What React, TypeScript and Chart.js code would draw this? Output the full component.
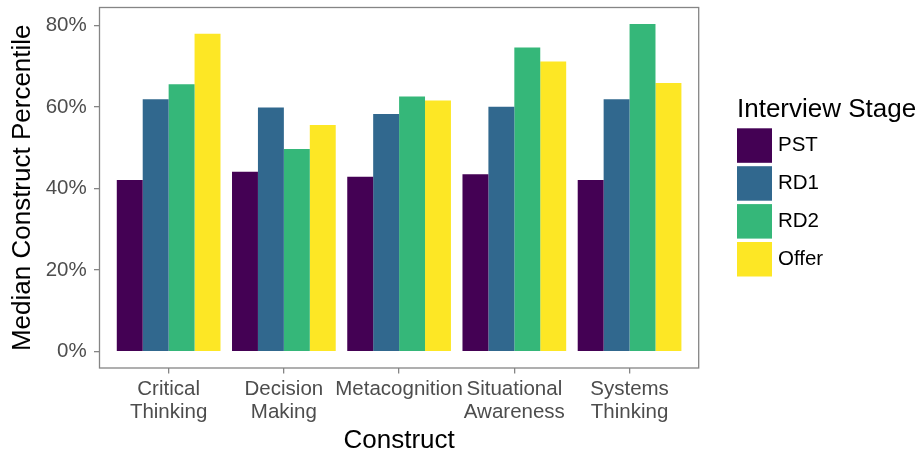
import React, { useEffect, useRef } from "react";
import { Chart, registerables, CategoryScale } from "chart.js";

Chart.register(...registerables);

class PaddedCategoryScale extends CategoryScale {
  static id = "paddedCategory";
  static defaults = CategoryScale.defaults;
  configure() {
    super.configure();
    const pad = 0.6;
    (this as any)._startValue = this.min - pad;
    (this as any)._valueRange = this.max - this.min + 2 * pad;
  }
}
Chart.register(PaddedCategoryScale as any);

const FONT = "'Liberation Sans', Arial, Helvetica, sans-serif";

const categories: string[][] = [
  ["Critical", "Thinking"],
  ["Decision", "Making"],
  ["Metacognition"],
  ["Situational", "Awareness"],
  ["Systems", "Thinking"],
];
const stages = ["PST", "RD1", "RD2", "Offer"];
const pst = [42.1, 44.1, 42.9, 43.5, 42.1];
const rd1 = [61.9, 59.9, 58.3, 60.1, 61.9];
const rd2 = [65.6, 49.7, 62.6, 74.6, 80.4];
const offer = [78.0, 55.6, 61.6, 71.2, 65.9];
const stageColors = ["#440154", "#31688E", "#35B779", "#FDE725"];
const yTicks = [0, 20, 40, 60, 80];
const yMin = -4.02;
const yMax = 84.42;
const xTitle = "Construct";
const yTitle = "Median Construct Percentile";
const legendTitle = "Interview Stage";

const GRAY = "#858585";

const borderPlugin = {
  id: "panelBorder",
  afterDraw(chart: any) {
    const { ctx, chartArea } = chart;
    ctx.save();
    ctx.strokeStyle = GRAY;
    ctx.lineWidth = 1.3;
    ctx.strokeRect(chartArea.left, chartArea.top, chartArea.right - chartArea.left, chartArea.bottom - chartArea.top);
    ctx.restore();
  },
};

const legendPlugin = {
  id: "ggLegend",
  afterDraw(chart: any) {
    const ctx = chart.ctx;
    ctx.save();
    ctx.textAlign = "left";
    ctx.fillStyle = "#000";
    ctx.font = `26px ${FONT}`;
    ctx.textBaseline = "alphabetic";
    ctx.fillText(legendTitle, 737, 116.5);
    chart.data.datasets.forEach((ds: any, i: number) => {
      const y = 128.3 + i * 37.9;
      ctx.fillStyle = ds.backgroundColor;
      ctx.fillRect(737, y, 35, 34.5);
      ctx.fillStyle = "#000";
      ctx.font = `20.5px ${FONT}`;
      ctx.textBaseline = "middle";
      ctx.fillText(ds.label, 778, y + 17.5);
    });
    ctx.restore();
  },
};

export default function App() {
  const ref = useRef<HTMLCanvasElement | null>(null);
  useEffect(() => {
    if (!ref.current) return;
    Chart.defaults.font.family = FONT;
    const series = [pst, rd1, rd2, offer];
    const chart = new Chart(ref.current, {
      type: "bar",
      data: {
        labels: categories as any,
        datasets: stages.map((s, i) => ({
          label: s,
          data: series[i],
          backgroundColor: stageColors[i],
          borderWidth: 0,
          categoryPercentage: 0.9,
          barPercentage: 1.0,
        })),
      },
      options: {
        animation: false,
        responsive: false,
        maintainAspectRatio: false,
        layout: { padding: { left: 0, top: 7.5, right: 220.3, bottom: 0 } },
        plugins: { legend: { display: false }, tooltip: { enabled: false } },
        scales: {
          x: {
            type: "paddedCategory" as any,
            offset: false,
            border: { display: false },
            grid: {
              display: true,
              offset: false,
              drawOnChartArea: false,
              drawTicks: true,
              tickLength: 5.5,
              tickColor: GRAY,
              lineWidth: 1.3,
            },
            ticks: {
              color: "#4d4d4d",
              font: { size: 20.5, lineHeight: 1.13 },
              padding: 4,
              maxRotation: 0,
              autoSkip: false,
            },
            title: {
              display: true,
              text: xTitle,
              color: "#000",
              font: { size: 26, lineHeight: 1.2 },
              padding: { top: 0, bottom: 0 },
            },
            afterFit: (s: any) => {
              s.height = 88;
              s.paddingLeft = 0;
              s.paddingRight = 0;
            },
          } as any,
          y: {
            min: yMin,
            max: yMax,
            border: { display: false },
            grid: {
              display: true,
              drawOnChartArea: false,
              drawTicks: true,
              tickLength: 5.5,
              tickColor: GRAY,
              lineWidth: 1.3,
            },
            ticks: {
              color: "#4d4d4d",
              font: { size: 20.5 },
              padding: 7.3,
              callback: (v: any) => `${v}%`,
            },
            afterBuildTicks: (s: any) => {
              s.ticks = yTicks.map((v) => ({ value: v }));
            },
            title: {
              display: true,
              text: yTitle,
              color: "#000",
              font: { size: 26, lineHeight: 1.2 },
              padding: { top: 7.7, bottom: 0 },
            },
            afterFit: (s: any) => {
              s.width = 99.5;
              s.paddingTop = 0;
              s.paddingBottom = 0;
            },
          },
        },
      },
      plugins: [borderPlugin, legendPlugin],
    });
    return () => chart.destroy();
  }, []);
  return (
    <div style={{ position: "absolute", left: 0, top: 0, width: 919, height: 456, background: "#fff" }}>
      <canvas ref={ref} width={919} height={456} style={{ width: 919, height: 456, display: "block" }} />
    </div>
  );
}
